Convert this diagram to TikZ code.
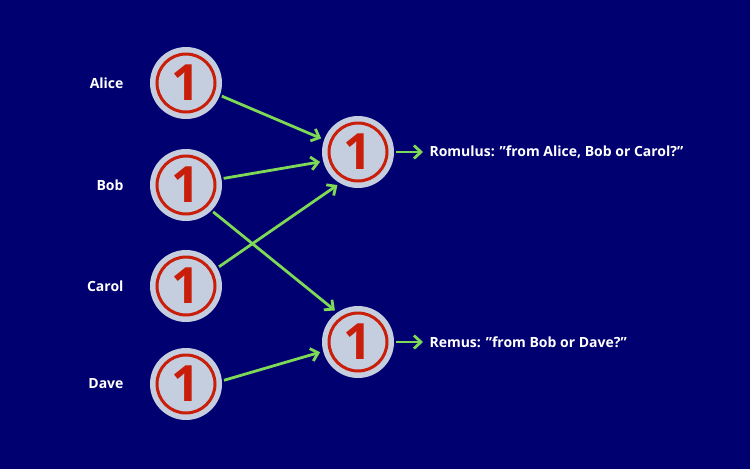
\documentclass[tikz,border=0pt]{standalone}
\usepackage{fontspec}
\setmainfont{Open Sans}
\usetikzlibrary{arrows.meta}
\definecolor{bg}{HTML}{000070}
\definecolor{coin}{HTML}{C5CEDF}
\definecolor{rred}{HTML}{C81E0A}
\definecolor{grn}{HTML}{7ED956}
\newcommand{\sq}{\symbol{34}}
\tikzset{
  coinnode/.style={circle,fill=coin,minimum size=72pt,inner sep=0pt,
    path picture={\draw[rred,line width=3pt] (path picture bounding box.center) circle (29pt);},
    font=\fontsize{50}{50}\selectfont\bfseries,text=rred},
  lbl/.style={font=\fontsize{14}{16}\selectfont\bfseries,text=white},
  arr/.style={grn,line width=2.8pt,-{Straight Barb[length=7pt,width=13pt]},shorten <=2pt,shorten >=3pt}
}
\begin{document}
\begin{tikzpicture}[x=1pt,y=-1pt]
\fill[bg] (0,0) rectangle (750,469);
\useasboundingbox (0,0) rectangle (750,469);
\node[coinnode] (a) at (186,83) {1};
\node[coinnode] (b) at (186,185) {1};
\node[coinnode] (c) at (186,286) {1};
\node[coinnode] (d) at (186,384) {1};
\node[coinnode] (rom) at (358,152) {1};
\node[coinnode] (rem) at (358,342) {1};
\node[lbl,anchor=east] (la) at (127,83) {Alice};
\node[lbl,anchor=east] (lb) at (127,185) {Bob};
\node[lbl,anchor=east] (lc) at (127,286) {Carol};
\node[lbl,anchor=east] (ld) at (127,384) {Dave};
\node[lbl,anchor=west] (trom) at (426,152) {Romulus: \sq from Alice, Bob or Carol?\sq};
\node[lbl,anchor=west] (trem) at (426,342) {Remus: \sq from Bob or Dave?\sq};
\draw[arr] (a.-20) -- (rom.160);
\draw[arr] (b.10) -- (rom.195);
\draw[arr] (b.-45) -- (rem.125);
\draw[arr] (c.30) -- (rom.240);
\draw[arr] (d.5) -- (rem.195);
\draw[arr] (rom.east) -- (trom.west);
\draw[arr] (rem.east) -- (trem.west);
\end{tikzpicture}
\end{document}
